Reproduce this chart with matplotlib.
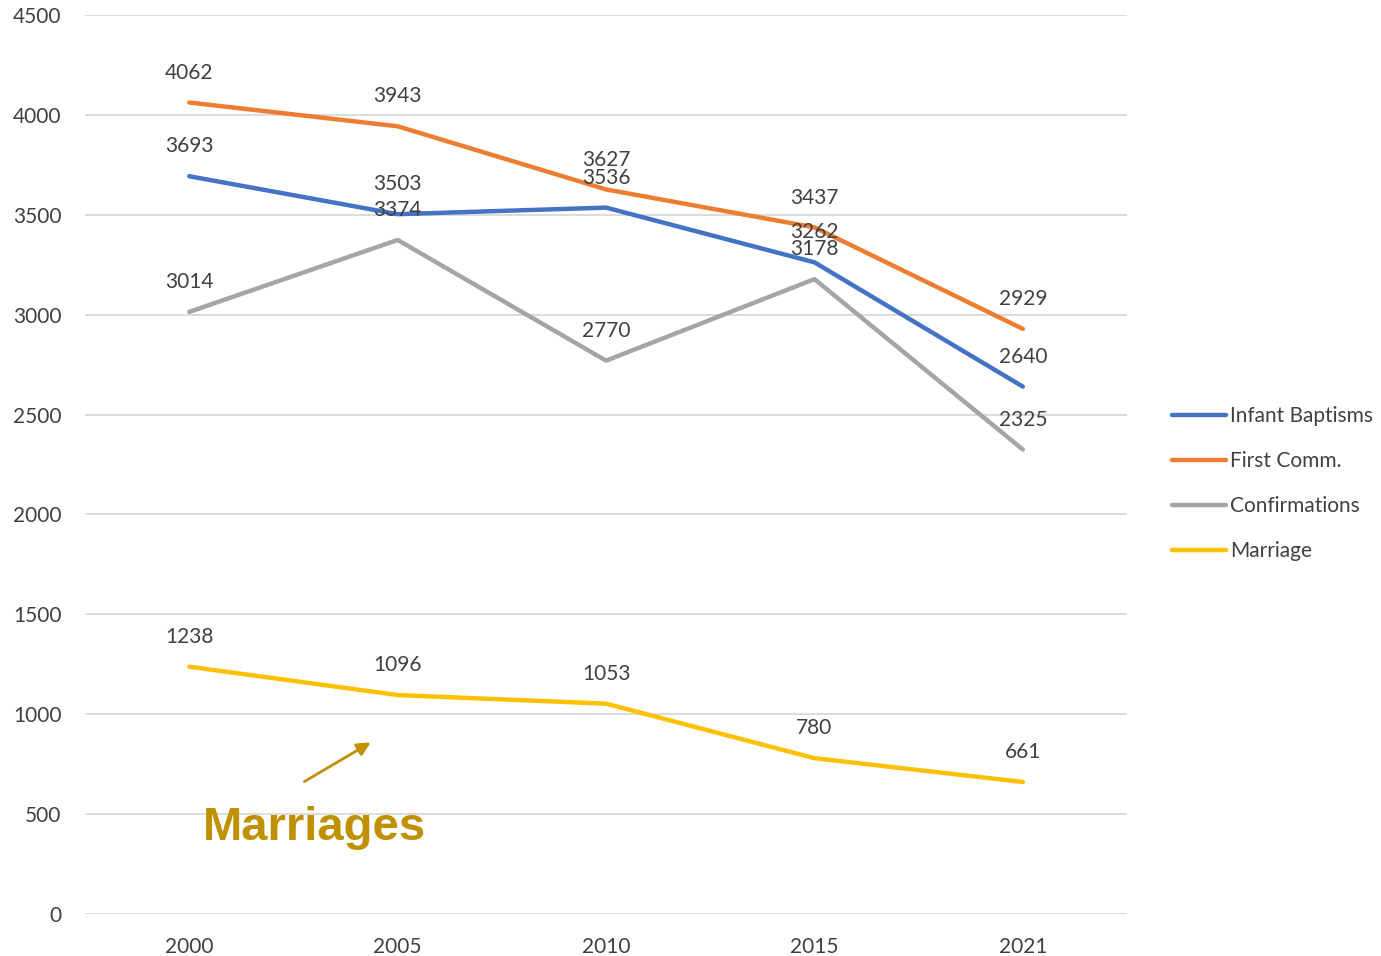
import matplotlib.pyplot as plt

years = ['2000', '2005', '2010', '2015', '2021']
infant_baptisms = [3693, 3503, 3536, 3262, 2640]
first_comm = [4062, 3943, 3627, 3437, 2929]
confirmations = [3014, 3374, 2770, 3178, 2325]
marriage = [1238, 1096, 1053, 780, 661]

series = [
    ('Infant Baptisms', infant_baptisms, '#4472C4'),
    ('First Comm.', first_comm, '#ED7D31'),
    ('Confirmations', confirmations, '#A5A5A5'),
    ('Marriage', marriage, '#FFC000'),
]

plt.rcParams['font.family'] = ['Lato', 'DejaVu Sans']
label_color = '#404040'

fig = plt.figure(figsize=(13.81, 9.56), dpi=100)
ax = fig.add_axes([0.0616, 0.0439, 0.7545, 0.9404])

x = list(range(len(years)))
for name, vals, color in series:
    ax.plot(x, vals, color=color, lw=3.2, label=name, solid_capstyle='round')
    for xi, v in zip(x, vals):
        ax.annotate(str(v), (xi, v), xytext=(0, 21.5), textcoords='offset points',
                    ha='center', va='center', fontsize=15, color=label_color)

ax.set_xlim(-0.5, 4.5)
ax.set_ylim(0, 4500)
ax.set_yticks(range(0, 4501, 500))
ax.set_xticks(x)
ax.set_xticklabels(years)
ax.tick_params(length=0, labelsize=15, labelcolor=label_color)
ax.tick_params(axis='y', pad=17)
ax.tick_params(axis='x', pad=16.5)
ax.grid(axis='y', color='#D9D9D9', lw=1.3)
ax.set_axisbelow(True)
for s in ax.spines.values():
    s.set_visible(False)

# Marriages callout
ax.annotate('', xy=(0.882, 866), xytext=(0.541, 656),
            arrowprops=dict(arrowstyle='-|>', color='#BF9000', lw=2, mutation_scale=20))
ax.text(0.066, 370, 'Marriages', fontsize=34, fontweight='bold',
        color='#BF9000', family='Liberation Sans', va='baseline')

leg = ax.legend(loc='center left', bbox_to_anchor=(1.025, 0.479), frameon=False,
                fontsize=15, handlelength=2.6, handletextpad=0.2, labelspacing=1.2)
for t in leg.get_texts():
    t.set_color(label_color)

fig.savefig('out.png', dpi=100)
